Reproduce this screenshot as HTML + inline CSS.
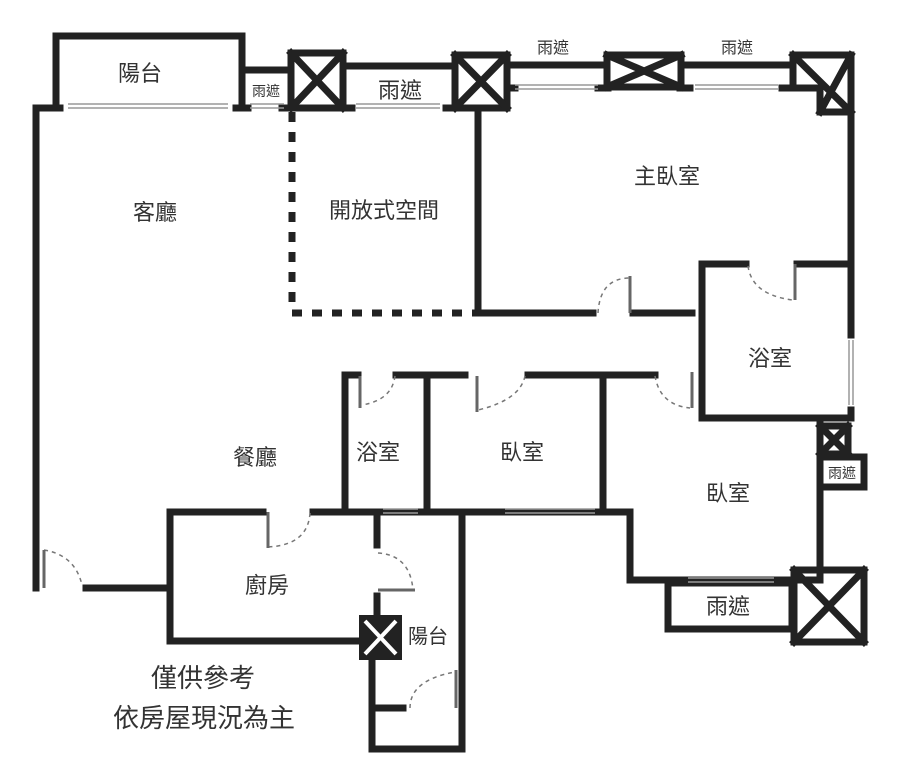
<!DOCTYPE html>
<html><head><meta charset="utf-8"><style>
html,body{margin:0;padding:0;background:#fff;}
svg{display:block;}
text{font-family:"Liberation Sans","Noto Sans CJK TC",sans-serif;fill:#333;}
</style></head><body>
<svg width="900" height="765" viewBox="0 0 900 765" xmlns="http://www.w3.org/2000/svg">
<g stroke="#222" stroke-width="7" fill="none" stroke-linecap="square">
<path d="M56 106 V36 H242 V106"/>
<path d="M246 70 H288"/>
<path d="M36 108 V588"/>
<path d="M36 108 H60 M236 108 H248 M282 108 H290"/>
<rect x="291" y="53" width="52" height="55"/>
<path d="M291 53 L343 108 M343 53 L291 108"/>
<path d="M346 66 H452"/>
<path d="M346 108 H352 M446 108 H452"/>
<rect x="455" y="55" width="52" height="53"/>
<path d="M455 55 L507 108 M507 55 L455 108"/>
<path d="M510 65 H604 M683 65 H792"/>
<path d="M507 88 H515 M598 88 H608 M680 88 H690 M782 88 H792"/>
<rect x="607" y="55" width="74" height="32"/>
<path d="M607 55 L681 87 M681 55 L607 87"/>
<path d="M793 55 H851 V112 H820 V88 H793 Z"/>
<path d="M793 55 L851 112 M851 55 L820 112"/>
<path d="M851 112 V262"/>
<path d="M478 110 V313 H593 M633 313 H692"/>
<path d="M702 313 V418 H851 M702 313 V264 H746 M797 264 H851"/>
<path d="M851 262 V335 M851 410 V418"/>
<rect x="820" y="426" width="28" height="28"/>
<path d="M820 426 L848 454 M848 426 L820 454"/>
<rect x="820" y="457" width="44" height="30"/>
<path d="M820 418 V580"/>
<path d="M345 375 H358 M396 375 H465 M528 375 H655"/>
<path d="M345 375 V510"/>
<path d="M427 375 V510"/>
<path d="M603 375 V510"/>
<path d="M170 512 H263 M313 512 H505 M505 512 H630"/>
<path d="M630 512 V580 H820"/>
<rect x="668" y="583" width="124" height="46"/>
<rect x="794" y="570" width="70" height="72"/>
<path d="M794 570 L864 642 M864 570 L794 642"/>
<path d="M170 512 V641 H365"/>
<path d="M86 588 H170"/>
<path d="M377 512 V545 M377 596 V617"/>
<path d="M462 512 V749 H372 V660"/>
<path d="M378 708 H403"/>
</g>
<rect x="359" y="615" width="43" height="45" fill="#222"/>
<path d="M365 621 L396 654 M396 621 L365 654" stroke="#fff" stroke-width="4"/>
<g stroke="#222" stroke-width="7" stroke-dasharray="10,10">
<path d="M292 112 V312"/>
<path d="M292 313 H475"/>
</g>
<g stroke="#999" stroke-width="1.5" fill="none">
<path d="M68 104 H228 M68 108 H228"/>
<path d="M250 104 H284 M250 108 H284"/>
<path d="M356 104 H440 M356 108 H440"/>
<path d="M515 85 H598 M515 89 H598 M695 85 H778 M695 89 H778"/>
<path d="M505 509 H595 M505 513 H595"/>
<path d="M688 578 H774 M688 582 H774"/>
<path d="M383 509 H418 M383 513 H418"/>
<path d="M849 340 V405 M853 340 V405"/>
</g>
<g stroke="#777" stroke-width="1.5" fill="none" stroke-dasharray="4,4">
<path d="M598 313 Q600 278 630 278"/>
<path d="M748 266 Q752 295 793 300"/>
<path d="M395 376 Q392 400 362 405"/>
<path d="M525 376 Q520 400 478 410"/>
<path d="M655 376 Q660 405 690 408"/>
<path d="M310 513 Q308 545 268 547"/>
<path d="M44 550 Q75 555 82 585"/>
<path d="M378 553 Q410 555 413 590"/>
<path d="M410 708 Q410 680 455 672"/>
</g>
<g stroke="#666" stroke-width="3" fill="none">
<path d="M630 276 V313 M795 264 V300 M360 376 V408 M477 376 V412 M692 372 V408 M268 512 V548 M44 550 V588 M378 590 H415 M456 670 V708"/>
</g>
<text x="140" y="81" font-size="22" text-anchor="middle">陽台</text>
<text x="266" y="96" font-size="14" text-anchor="middle">雨遮</text>
<text x="400" y="98" font-size="22" text-anchor="middle">雨遮</text>
<text x="553" y="53" font-size="16" text-anchor="middle">雨遮</text>
<text x="737" y="53" font-size="16" text-anchor="middle">雨遮</text>
<text x="155" y="220" font-size="22" text-anchor="middle">客廳</text>
<text x="384" y="218" font-size="22" text-anchor="middle">開放式空間</text>
<text x="667" y="184" font-size="22" text-anchor="middle">主臥室</text>
<text x="770" y="366" font-size="22" text-anchor="middle">浴室</text>
<text x="842" y="478" font-size="14" text-anchor="middle">雨遮</text>
<text x="378" y="460" font-size="22" text-anchor="middle">浴室</text>
<text x="522" y="460" font-size="22" text-anchor="middle">臥室</text>
<text x="728" y="501" font-size="22" text-anchor="middle">臥室</text>
<text x="255" y="465" font-size="22" text-anchor="middle">餐廳</text>
<text x="267" y="593" font-size="22" text-anchor="middle">廚房</text>
<text x="428" y="643" font-size="20" text-anchor="middle">陽台</text>
<text x="728" y="614" font-size="22" text-anchor="middle">雨遮</text>
<text x="203" y="687" font-size="26" text-anchor="middle">僅供參考</text>
<text x="204" y="727" font-size="26" text-anchor="middle">依房屋現況為主</text>
</svg>
</body></html>
